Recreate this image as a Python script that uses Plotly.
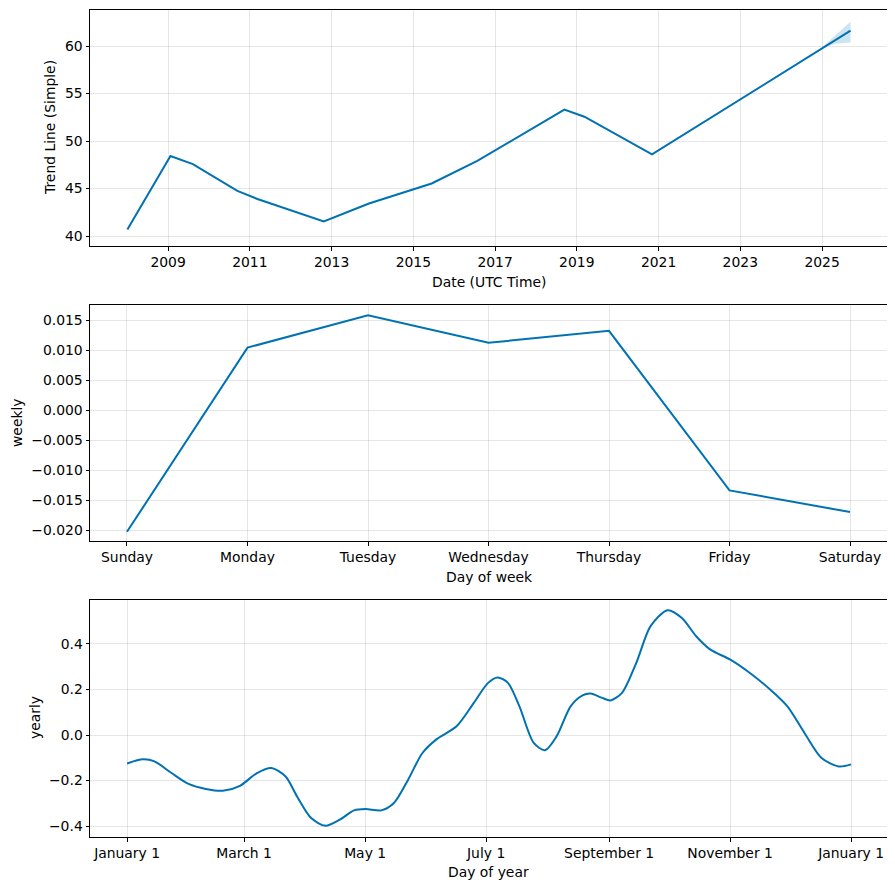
import plotly.graph_objects as go

# ---- Data ----
trend_dates = ["2008-01-03", "2009-01-22", "2009-08-10", "2010-09-12", "2011-03-10",
               "2012-10-23", "2013-12-01", "2015-06-14", "2016-07-26", "2018-09-12",
               "2019-03-10", "2020-11-03", "2025-09-12"]
trend_values = [40.68, 48.42, 47.57, 44.75, 43.90, 41.53, 43.43, 45.53, 47.91, 53.31,
                52.56, 48.59, 61.63]
band_dates = ["2024-12-20", "2025-05-01", "2025-09-12"]
band_upper = [59.75, 61.10, 62.56]
band_lower = [59.75, 60.25, 60.39]

days = ["Sunday", "Monday", "Tuesday", "Wednesday", "Thursday", "Friday", "Saturday"]
weekly_values = [-0.0203, 0.0104, 0.0158, 0.0112, 0.0132, -0.0134, -0.0170]

yearly_days = [0, 8, 13.8, 22.4, 31, 39.7, 48.3, 56.9, 65.5, 72.7, 79.9, 85.7, 92.8, 100,
               107.2, 114.4, 120.2, 128.2, 134.5, 141.7, 148.9, 156.1, 166.1, 174.8, 182,
               186.8, 192, 197.8, 205, 210.7, 216.5, 223.6, 229.4, 233.7, 239.5, 243.7,
               249.5, 256.7, 263.9, 272.5, 279.7, 286.9, 294.1, 304.1, 312.8, 324.3,
               332.9, 341.5, 350.1, 358.8, 365]
yearly_values = [-0.125, -0.107, -0.116, -0.167, -0.215, -0.237, -0.245, -0.223, -0.167,
                 -0.145, -0.182, -0.270, -0.365, -0.399, -0.372, -0.331, -0.325, -0.331,
                 -0.299, -0.196, -0.079, -0.018, 0.038, 0.141, 0.229, 0.253, 0.229, 0.126,
                 -0.035, -0.067, -0.006, 0.126, 0.173, 0.182, 0.163, 0.152, 0.185, 0.317,
                 0.478, 0.548, 0.514, 0.434, 0.375, 0.331, 0.280, 0.199, 0.126, 0.009,
                 -0.101, -0.138, -0.129]
yearly_tick_days = [0, 59, 120, 181, 243, 304, 365]
yearly_tick_labels = ["January 1", "March 1", "May 1", "July 1", "September 1",
                      "November 1", "January 1"]

LINE = "#0072B2"
GRID = "rgba(128,128,128,0.2)"
FONT = dict(family="DejaVu Sans", size=13.9, color="black")

fig = go.Figure()

# Trend band
fig.add_trace(go.Scatter(x=band_dates, y=band_upper, mode="lines", line=dict(width=0, color=LINE),
                         showlegend=False, hoverinfo="skip", xaxis="x", yaxis="y"))
fig.add_trace(go.Scatter(x=band_dates, y=band_lower, mode="lines", line=dict(width=0, color=LINE),
                         fill="tonexty", fillcolor="rgba(0,114,178,0.2)",
                         showlegend=False, hoverinfo="skip", xaxis="x", yaxis="y"))
fig.add_trace(go.Scatter(x=trend_dates, y=trend_values, mode="lines",
                         line=dict(color=LINE, width=2), showlegend=False,
                         xaxis="x", yaxis="y"))
fig.add_trace(go.Scatter(x=days, y=weekly_values, mode="lines",
                         line=dict(color=LINE, width=2), showlegend=False,
                         xaxis="x2", yaxis="y2"))
fig.add_trace(go.Scatter(x=yearly_days, y=yearly_values, mode="lines",
                         line=dict(color=LINE, width=2, shape="spline", smoothing=0.8),
                         showlegend=False, xaxis="x3", yaxis="y3"))

# The page body adds an 8px offset; size the figure to fit the window.
OFF = 8
W, H = 895 - OFF, 890 - OFF

def px_x(x):
    return (x - OFF) / W

def px_y(y):
    return 1 - (y - OFF) / H

xd = [px_x(90), px_x(887)]

def ydom(top, bottom):
    return [px_y(bottom), px_y(top)]

common = dict(showline=True, mirror=True, linecolor="black", linewidth=1,
              ticks="outside", ticklen=3.5, tickcolor="black", tickwidth=1,
              showgrid=True, gridcolor=GRID, gridwidth=1, zeroline=False,
              tickfont=FONT)

fig.update_layout(
    width=W, height=H,
    margin=dict(l=0, r=0, t=0, b=0),
    paper_bgcolor="white", plot_bgcolor="white",
    font=FONT,
    xaxis=dict(domain=xd, anchor="y", type="date",
               range=["2007-02-03", "2026-08-04"],
               tick0="2009-01-01", dtick="M24", tickformat="%Y", **common),
    yaxis=dict(domain=ydom(10, 246), anchor="x", range=[38.95, 63.8],
               tickvals=[40, 45, 50, 55, 60], **common),
    xaxis2=dict(domain=xd, anchor="y2", type="category", range=[-0.307, 6.307], **common),
    yaxis2=dict(domain=ydom(305, 541), anchor="x2", range=[-0.02183, 0.0175],
                tickvals=[-0.020, -0.015, -0.010, -0.005, 0.0, 0.005, 0.010, 0.015],
                tickformat=".3f", **common),
    xaxis3=dict(domain=xd, anchor="y3", range=[-18.7, 383.1],
                tickvals=yearly_tick_days, ticktext=yearly_tick_labels, **common),
    yaxis3=dict(domain=ydom(600, 837), anchor="x3", range=[-0.448, 0.593],
                tickvals=[-0.4, -0.2, 0.0, 0.2, 0.4], tickformat=".1f", **common),
)

titles = [
    ("Date (UTC Time)", 488.5, 282, 0),
    ("Day of week", 488.5, 577, 0),
    ("Day of year", 488.5, 872, 0),
    ("Trend Line (Simple)", 50, 128, -90),
    ("weekly", 17, 423, -90),
    ("yearly", 35, 718, -90),
]
for text, x, y, ang in titles:
    fig.add_annotation(text=text, x=px_x(x), y=px_y(y), xref="paper", yref="paper",
                       xanchor="center", yanchor="middle", showarrow=False,
                       textangle=ang, font=FONT)

fig.write_html("out.html")
